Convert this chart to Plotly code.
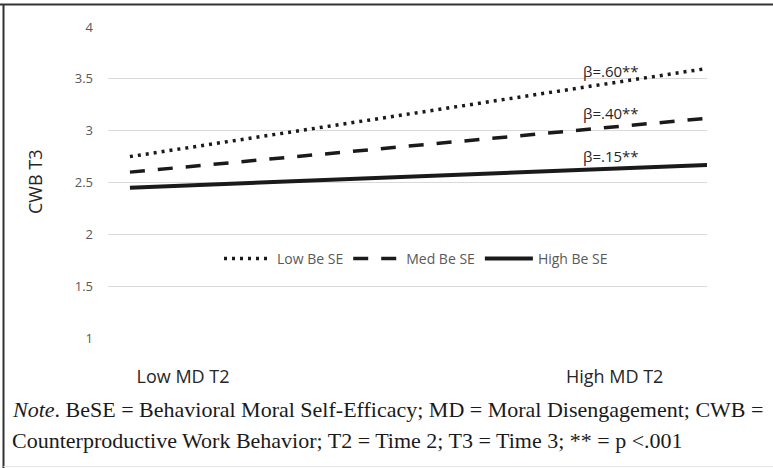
import plotly.graph_objects as go

# ---- data ----
md_levels = [0, 1]                       # Low MD T2 -> High MD T2
low_bese = [2.75, 3.60]
med_bese = [2.60, 3.12]
high_bese = [2.45, 2.67]
series_names = ["Low Be SE", "Med Be SE", "High Be SE"]
betas = ["β=.60**", "β=.40**", "β=.15**"]
beta_y = [3.58, 3.17, 2.76]
x_tick_vals = [0.092, 0.840]
x_tick_text = ["Low MD T2", "High MD T2"]
y_tick_vals = [1, 1.5, 2, 2.5, 3, 3.5, 4]
y_tick_text = ["1", "1.5", "2", "2.5", "3", "3.5", "4"]

W, H = 773, 468
L, R, T, B = 108, 66, 27, 130
pw, ph = W - L - R, H - T - B

def px(x):
    return (x - L) / pw

def py(y):
    return (H - B - y) / ph

fig = go.Figure()
styles = [("3px,5px", 3.5), ("15px,13px", 3.5), ("solid", 4)]
for name, vals, (dash, w) in zip(series_names, [low_bese, med_bese, high_bese], styles):
    fig.add_trace(go.Scatter(x=md_levels, y=vals, mode="lines", name=name,
                             line=dict(color="#1a1a1a", width=w, dash=dash)))

for txt, yv in zip(betas, beta_y):
    fig.add_annotation(x=0.885, y=yv, text=txt, showarrow=False, xanchor="right",
                       yanchor="middle", font=dict(family="Open Sans", size=15, color="#262626"))

# y title
fig.add_annotation(xref="paper", yref="paper", x=px(35), y=py(182), text="CWB T3",
                   textangle=-90, showarrow=False, xanchor="center", yanchor="middle",
                   font=dict(family="Open Sans", size=18, color="#262626"))

# note
note1 = "<i>Note</i>. BeSE = Behavioral Moral Self-Efficacy; MD = Moral Disengagement; CWB ="
note2 = "Counterproductive Work Behavior; T2 = Time 2; T3 = Time 3; ** = p &lt;.001"
for txt, yy in [(note1, 409), (note2, 440)]:
    fig.add_annotation(xref="paper", yref="paper", x=px(10), y=py(yy), text=txt,
                       showarrow=False, xanchor="left", yanchor="middle",
                       font=dict(family="Liberation Serif", size=22, color="#1a1a1a"))

# border lines (top & left dark, bottom light)
fig.add_shape(type="line", xref="paper", yref="paper", x0=px(0), x1=px(W), y0=py(4.5), y1=py(4.5),
              line=dict(color="#333333", width=2))
fig.add_shape(type="line", xref="paper", yref="paper", x0=px(3.5), x1=px(3.5), y0=py(4), y1=py(H),
              line=dict(color="#333333", width=2))
fig.add_shape(type="line", xref="paper", yref="paper", x0=px(3.5), x1=px(W), y0=py(466.5), y1=py(466.5),
              line=dict(color="#e6e6e6", width=1))

fig.update_layout(
    width=W, height=H,
    margin=dict(l=L, r=R, t=T, b=B),
    paper_bgcolor="white", plot_bgcolor="white",
    showlegend=True,
    legend=dict(orientation="h", x=px(416), y=py(259), xanchor="center", yanchor="middle",
                font=dict(family="Open Sans", size=14, color="#595959"),
                itemwidth=48, bgcolor="rgba(0,0,0,0)", tracegroupgap=0),
    xaxis=dict(range=[-0.038, 1.0], tickvals=x_tick_vals, ticktext=x_tick_text,
               showgrid=False, zeroline=False, showline=False, ticks="",
               ticklabelstandoff=26,
               tickfont=dict(family="Open Sans", size=18, color="#262626")),
    yaxis=dict(range=[1.0, 4.0], tickvals=y_tick_vals, ticktext=y_tick_text,
               showgrid=True, gridcolor="#d9d9d9", gridwidth=1, zeroline=False,
               showline=False, ticks="", ticklabelstandoff=14,
               tickfont=dict(family="Open Sans", size=13, color="#595959")),
)

fig.write_html("out.html", config={"displayModeBar": False},
               post_script="document.body.style.margin='0px';")
